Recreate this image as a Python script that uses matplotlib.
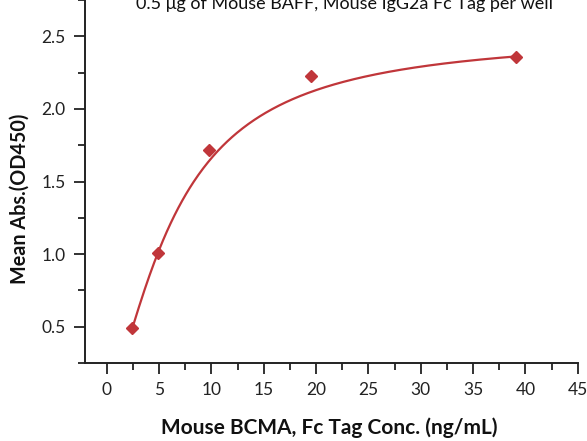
import numpy as np
import matplotlib
matplotlib.use("Agg")
import matplotlib.pyplot as plt
from matplotlib.ticker import MultipleLocator

# Data
conc = [2.44, 4.88, 9.77, 19.53, 39.06]
od450 = [0.49, 1.01, 1.72, 2.23, 2.36]
# 4-parameter logistic fit parameters: bottom, top, EC50, hill slope
fit_bottom, fit_top, fit_ec50, fit_hill = 0.02, 2.52, 6.5, 1.5

title = "0.5 \u03bcg of Mouse BAFF, Mouse IgG2a Fc Tag per well"
xlabel = "Mouse BCMA, Fc Tag Conc. (ng/mL)"
ylabel = "Mean Abs.(OD450)"

color = "#C0363A"
plt.rcParams['font.family'] = ['Lato', 'DejaVu Sans']

fig = plt.figure(figsize=(5.87, 4.41), dpi=100)
W, H = 587, 441
ax = fig.add_axes([85 / W, (H - 363) / H, (577.7 - 85) / W, 363 / H])

xs = np.linspace(min(conc), max(conc), 400)
ys = fit_top + (fit_bottom - fit_top) / (1 + (xs / fit_ec50) ** fit_hill)
ax.plot(xs, ys, color=color, lw=1.6, zorder=2)
ax.plot(conc, od450, linestyle='none', marker='D', markersize=6.5,
        color=color, zorder=3)

ax.set_xlim(-2.07, 45)
ax.set_ylim(0.25, 2.75)
ax.xaxis.set_major_locator(MultipleLocator(5))
ax.xaxis.set_minor_locator(MultipleLocator(2.5))
ax.yaxis.set_major_locator(MultipleLocator(0.5))
ax.yaxis.set_minor_locator(MultipleLocator(0.25))
ax.set_yticks([0.5, 1.0, 1.5, 2.0, 2.5])
ax.set_yticklabels(["0.5", "1.0", "1.5", "2.0", "2.5"])

for s in ['top', 'right']:
    ax.spines[s].set_visible(False)
for s in ['left', 'bottom']:
    ax.spines[s].set_linewidth(1.4)
    ax.spines[s].set_color('#222222')

ax.tick_params(which='major', direction='out', length=8, width=1.3,
               labelsize=12.5, colors='#222222', pad=6)
ax.tick_params(which='minor', direction='out', length=5, width=1.3,
               colors='#222222')
ax.tick_params(axis='x', which='major', pad=6)

fig.text(20 / W, 1 - 199 / H, ylabel, rotation=90, ha='center', va='center',
         fontsize=14.2, fontweight='bold', color='#111111')
fig.text(329 / W, 1 - 428 / H, xlabel, ha='center', va='center',
         fontsize=15, fontweight='bold', color='#111111')
fig.text(345 / W, 1 - 9 / H, title, ha='center', va='baseline',
         fontsize=13, color='#111111')

fig.savefig("out.png", dpi=100)
